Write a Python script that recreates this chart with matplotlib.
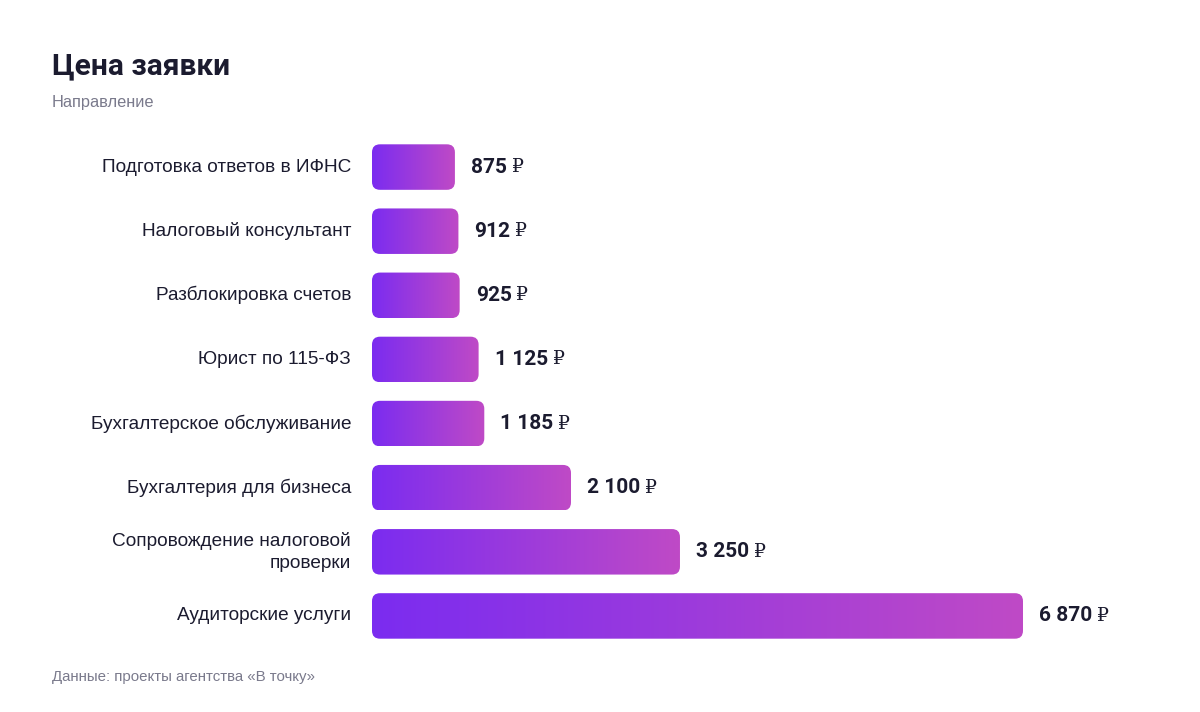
import numpy as np
import matplotlib
matplotlib.use("Agg")
import matplotlib.pyplot as plt
from matplotlib.patches import FancyBboxPatch
from matplotlib.colors import to_rgb

# данные
napravleniya = [
    "Подготовка ответов в ИФНС",
    "Налоговый консультант",
    "Разблокировка счетов",
    "Юрист по 115-ФЗ",
    "Бухгалтерское обслуживание",
    "Бухгалтерия для бизнеса",
    "Сопровождение налоговой\nпроверки",
    "Аудиторские услуги",
]
ceny = [875, 912, 925, 1125, 1185, 2100, 3250, 6870]

title = "Цена заявки"
subtitle = "Направление"
footer = "Данные: проекты агентства «В точку»"

cvet_start = "#7B2CF0"
cvet_end = "#BF4AC6"
cvet_text = "#1B1B2F"
cvet_grey = "#7A7A8C"

W, H = 1200, 712
fig = plt.figure(figsize=(W / 100, H / 100), dpi=100)
fig.patch.set_facecolor("white")

# оси: x=372px -> 0, x=1023px -> max
ax_left, ax_right = 372, 1023
ax_top, ax_bot = 135, 648
ax = fig.add_axes([ax_left / W, 1 - ax_bot / H, (ax_right - ax_left) / W, (ax_bot - ax_top) / H])
ax.set_axis_off()
xmax = max(ceny)
n = len(ceny)

px_x = xmax / (ax_right - ax_left)        # единиц x на пиксель
px_y = n / (ax_bot - ax_top)             # единиц y на пиксель
radius = 8
bar_h = 45.5 * px_y

c0 = np.array(to_rgb(cvet_start))
c1 = np.array(to_rgb(cvet_end))
t = np.linspace(0, 1, 256)[None, :, None]
grad = c0 * (1 - t) + c1 * t

for i, (name, val) in enumerate(zip(napravleniya, ceny)):
    y0 = i - bar_h / 2
    patch = FancyBboxPatch((0, y0), val, bar_h,
                           boxstyle="round,pad=0,rounding_size=%f" % (radius * px_x),
                           mutation_aspect=px_y / px_x,
                           facecolor="none", edgecolor="none")
    ax.add_patch(patch)
    im = ax.imshow(grad, extent=(0, val, i + bar_h / 2, y0), aspect="auto",
                   interpolation="bilinear", zorder=2)
    im.set_clip_path(patch)

    txt = ax.annotate("{:,}".format(val).replace(",", " "), xy=(val, i),
                      xytext=(11.5, 0), textcoords="offset points",
                      ha="left", va="center", fontsize=15, fontweight="bold",
                      family=["Roboto", "DejaVu Sans"], color=cvet_text)
    ax.annotate("₽", xy=(1, 0.5), xycoords=txt, xytext=(3.5, 0),
                textcoords="offset points", ha="left", va="center",
                fontsize=13.5, family=["DejaVu Serif"], color=cvet_text)

    ax.annotate(name, xy=(0, i), xytext=(-15, 0), textcoords="offset points",
                ha="right", va="center", multialignment="right",
                fontsize=13.7, linespacing=1.4,
                family=["Liberation Sans", "DejaVu Sans"], color=cvet_text)

ax.set_xlim(0, xmax)
ax.set_ylim(n - 0.5, -0.5)

fig.text(52 / W, 1 - 66 / H, title, fontsize=21.5, fontweight="bold",
         family=["Roboto", "DejaVu Sans"], color=cvet_text, va="center", ha="left")
fig.text(52 / W, 1 - 102 / H, subtitle, fontsize=11.8,
         family=["Liberation Sans", "DejaVu Sans"], color=cvet_grey, va="center", ha="left")
fig.text(52 / W, 1 - 677 / H, footer, fontsize=10.8,
         family=["Liberation Sans", "DejaVu Sans"], color=cvet_grey, va="center", ha="left")

fig.savefig("out.png", dpi=100, facecolor="white")
